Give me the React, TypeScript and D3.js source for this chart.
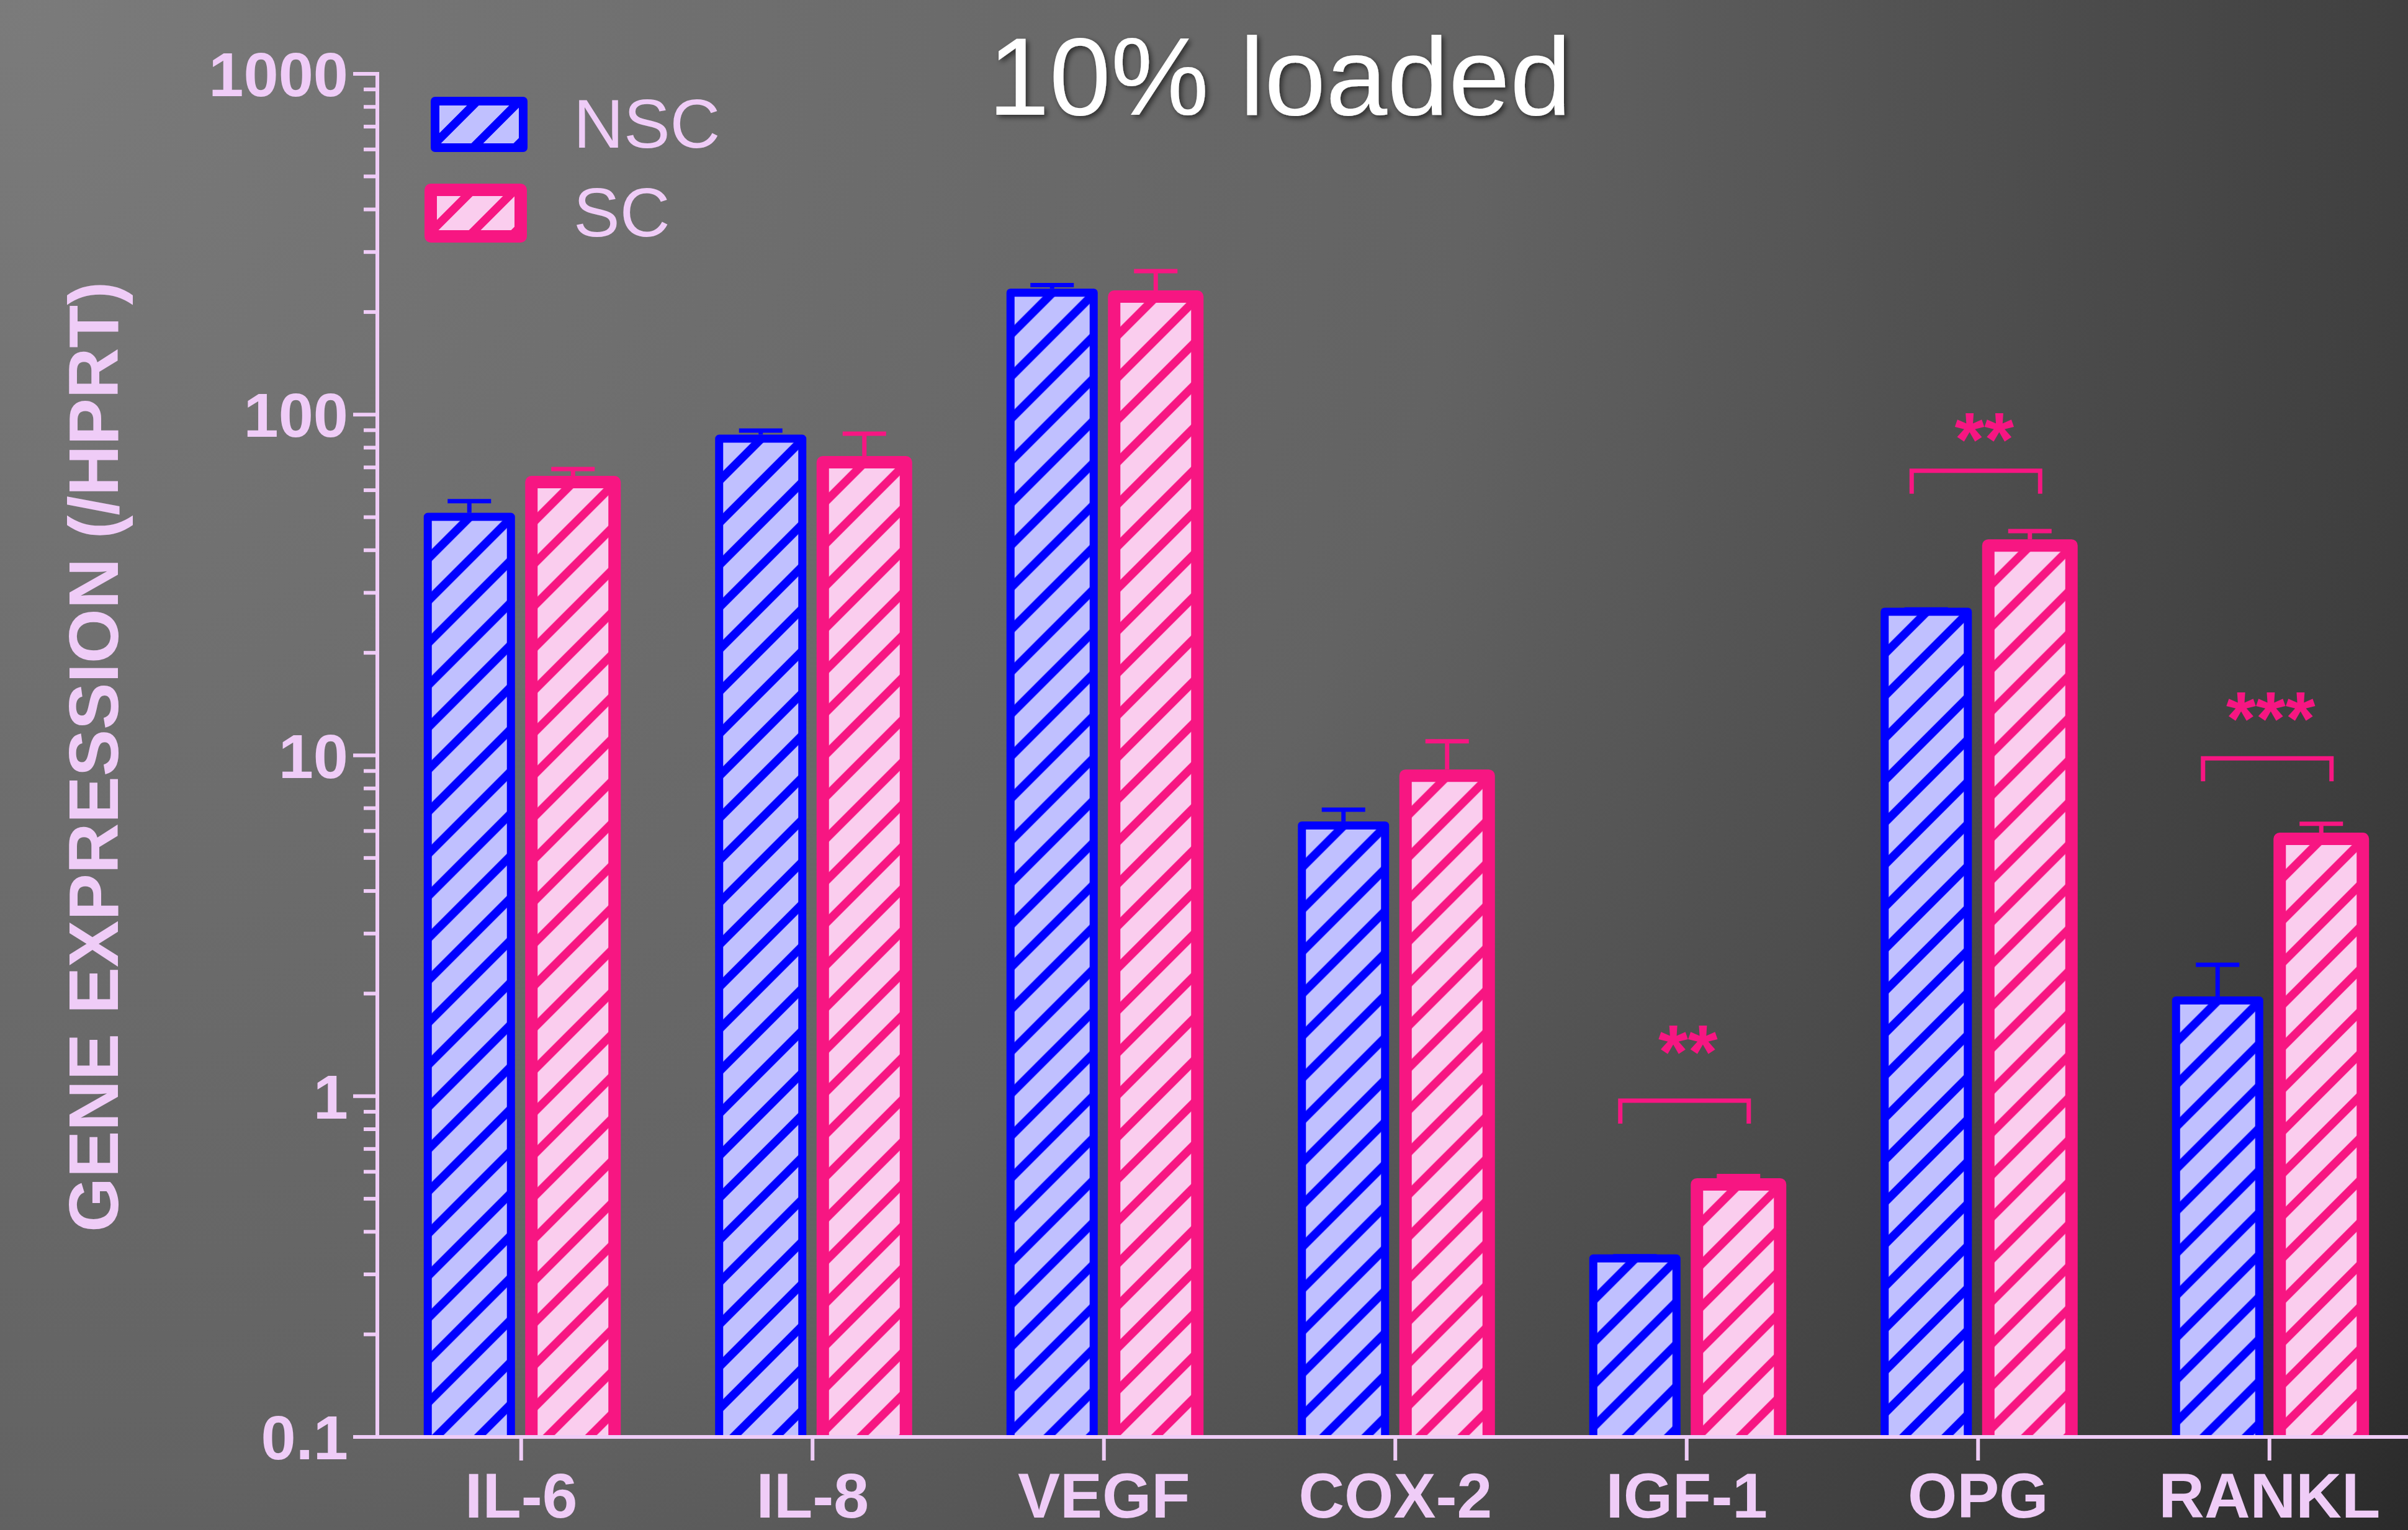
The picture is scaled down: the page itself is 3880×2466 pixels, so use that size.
import { useEffect } from 'react'
import * as d3 from 'd3'

const categories = ['IL-6', 'IL-8', 'VEGF', 'COX-2', 'IGF-1', 'OPG', 'RANKL']
const seriesNames = ['NSC', 'SC']

// means and upper error (SEM)
const nscMean = [50.1, 85.0, 228, 6.23, 0.334, 26.4, 1.91]
const nscSem = [5.6, 4.8, 12, 0.7, 0.005, 0.4, 0.52]
const scMean = [63.4, 72.5, 222, 8.72, 0.551, 41.3, 5.69]
const scSem = [5.8, 15.4, 41.6, 2.28, 0.032, 4.2, 0.61]

const yTickLabels = ['0.1', '1', '10', '100', '1000']

const sigCategories = ['IGF-1', 'OPG', 'RANKL']
const sigLabels = ['**', '**', '***']
const sigBracketLevel = [0.97, 68.4, 9.8]
const sigStarLevel = [1.39, 87.2, 13.2]

const W = 3880
const H = 2466
const font = '"Liberation Sans", Arial, Helvetica, sans-serif'
const lav = '#efccf7'
const blue = '#0000ff'
const pink = '#f71682'

const series = [
  { key: 'NSC', means: nscMean, sems: nscSem, stroke: blue, fill: '#c0c0ff', sw: 13 },
  { key: 'SC', means: scMean, sems: scSem, stroke: pink, fill: '#facdee', sw: 20 },
]

const HATCH = 68

const Hatch = ({ id, x, y, fill, stroke }: { id: string; x: number; y: number; fill: string; stroke: string }) => (
  <pattern id={id} patternUnits="userSpaceOnUse" x={x} y={y} width={HATCH} height={HATCH}>
    <rect width={HATCH} height={HATCH} fill={fill} />
    <path
      d={`M-20,20 L20,-20 M0,${HATCH} L${HATCH},0 M${HATCH - 20},${HATCH + 20} L${HATCH + 20},${HATCH - 20}`}
      stroke={stroke}
      strokeWidth={13.5}
    />
  </pattern>
)

export default function App() {
  useEffect(() => {
    document.body.style.margin = '0'
    document.body.style.overflow = 'hidden'
  }, [])

  const y = d3.scaleLog().domain([0.1, 1000]).range([2316, 119])
  const x = d3.scaleBand<string>().domain(categories).range([605, 605 + 7 * 469.5])
  const sub = d3.scaleBand<string>().domain(seriesNames).range([-167, 167])
  const cx = (c: string) => (x(c) ?? 0) + x.bandwidth() / 2
  const barW = 134
  const axisX = 608
  const y0 = y(0.1)

  const ticks = y.ticks()

  return (
    <svg width={W} height={H} style={{ position: 'absolute', left: 0, top: 0, display: 'block' }}>
      <defs>
        <radialGradient id="bg" gradientUnits="userSpaceOnUse" cx={0} cy={0} r={4600}>
          <stop offset="0" stopColor="#7b7b7b" />
          <stop offset="0.35" stopColor="#6a6a6a" />
          <stop offset="0.52" stopColor="#636363" />
          <stop offset="0.67" stopColor="#525252" />
          <stop offset="0.8" stopColor="#444444" />
          <stop offset="0.9" stopColor="#3a3a3a" />
          <stop offset="1" stopColor="#2a2a2a" />
        </radialGradient>
        <filter id="shadow" x="-10%" y="-30%" width="120%" height="160%">
          <feDropShadow dx="4" dy="4" stdDeviation="4" floodColor="#000" floodOpacity="0.55" />
        </filter>
        <clipPath id="plot">
          <rect x={0} y={0} width={W} height={y0} />
        </clipPath>
        {series.map((s) =>
          categories.map((c, i) => (
            <Hatch
              key={`${s.key}-${i}`}
              id={`hatch-${s.key}-${i}`}
              x={cx(c) + (sub(s.key) ?? 0) + sub.bandwidth() / 2 - barW / 2}
              y={y(s.means[i])}
              fill={s.fill}
              stroke={s.stroke}
            />
          )),
        )}
        <Hatch id="leg-NSC" x={701} y={163} fill={series[0].fill} stroke={blue} />
        <Hatch id="leg-SC" x={694} y={306} fill={series[1].fill} stroke={pink} />
      </defs>

      <rect width={W} height={H} fill="url(#bg)" />

      {/* title */}
      <text x={2062} y={185} fontFamily={font} fontSize={178} fill="#fff" textAnchor="middle" filter="url(#shadow)">
        10% loaded
      </text>

      {/* bars */}
      <g clipPath="url(#plot)">
        {series.map((s) =>
          categories.map((c, i) => {
            const bx = cx(c) + (sub(s.key) ?? 0) + sub.bandwidth() / 2 - barW / 2
            const top = y(s.means[i])
            return (
              <rect
                key={`${s.key}-${c}`}
                x={bx}
                y={top}
                width={barW}
                height={y0 - top + 20}
                fill={`url(#hatch-${s.key}-${i})`}
                stroke={s.stroke}
                strokeWidth={s.sw}
                strokeLinejoin="round"
              />
            )
          }),
        )}
      </g>

      {/* error bars */}
      {series.map((s) =>
        categories.map((c, i) => {
          const ex = cx(c) + (sub(s.key) ?? 0) + sub.bandwidth() / 2
          const top = y(s.means[i])
          const ey = y(s.means[i] + s.sems[i])
          return (
            <g key={`e-${s.key}-${c}`} stroke={s.stroke} strokeWidth={7}>
              <line x1={ex} x2={ex} y1={top - s.sw / 2} y2={ey} />
              <line x1={ex - 35} x2={ex + 35} y1={ey} y2={ey} />
            </g>
          )
        }),
      )}

      {/* significance brackets */}
      {sigCategories.map((c, i) => {
        const g = cx(c)
        const by = y(sigBracketLevel[i])
        const left = g - 107
        const right = g + 100
        return (
          <g key={`sig-${c}`}>
            <path
              d={`M${left},${by + 37} V${by} H${right} V${by + 37}`}
              fill="none"
              stroke={pink}
              strokeWidth={7}
            />
            <text
              x={g + (c === 'OPG' ? 10 : 2)}
              y={y(sigStarLevel[i]) + 0.395 * 123}
              fontFamily={font}
              fontWeight="bold"
              fontSize={123}
              fill={pink}
              textAnchor="middle"
            >
              {sigLabels[i]}
            </text>
          </g>
        )
      })}

      {/* y axis */}
      <g stroke={lav} strokeWidth={6}>
        <line x1={axisX} x2={axisX} y1={y(1000) - 3} y2={y0} />
        {ticks.map((t) => {
          const major = Math.abs(Math.log10(t) - Math.round(Math.log10(t))) < 1e-6
          return <line key={`t-${t}`} x1={major ? axisX - 39 : axisX - 22} x2={axisX} y1={y(t)} y2={y(t)} />
        })}
        <line x1={axisX} x2={W} y1={y0} y2={y0} />
        {categories.map((c) => (
          <line key={`xt-${c}`} x1={cx(c)} x2={cx(c)} y1={y0} y2={y0 + 38} />
        ))}
      </g>
      {yTickLabels.map((l) => (
        <text
          key={`yl-${l}`}
          x={561}
          y={y(+l) + 36}
          fontFamily={font}
          fontWeight="bold"
          fontSize={101}
          fill={lav}
          textAnchor="end"
        >
          {l}
        </text>
      ))}
      {categories.map((c) => (
        <text
          key={`xl-${c}`}
          x={cx(c)}
          y={2446}
          fontFamily={font}
          fontWeight="bold"
          fontSize={102}
          fill={lav}
          textAnchor="middle"
        >
          {c}
        </text>
      ))}
      <text
        transform="translate(190,1220) rotate(-90)"
        fontFamily={font}
        fontWeight="bold"
        fontSize={113}
        fill={lav}
        textAnchor="middle"
      >
        GENE EXPRESSION (/HPRT)
      </text>

      {/* legend */}
      <rect x={701} y={163} width={142} height={75} fill="url(#leg-NSC)" stroke={blue} strokeWidth={14} strokeLinejoin="round" />
      <text x={924} y={238} fontFamily={font} fontSize={112} fill={lav}>
        NSC
      </text>
      <rect x={694} y={306} width={145} height={75} fill="url(#leg-SC)" stroke={pink} strokeWidth={20} strokeLinejoin="round" />
      <text x={924} y={381} fontFamily={font} fontSize={112} fill={lav}>
        SC
      </text>
    </svg>
  )
}
